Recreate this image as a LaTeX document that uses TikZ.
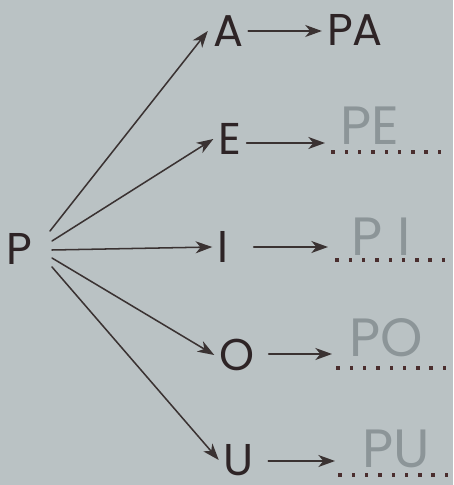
\documentclass[tikz,border=0pt]{standalone}
\usepackage{fontspec}
\setmainfont{Poppins}
\usetikzlibrary{arrows.meta}
\definecolor{Paper}{HTML}{BAC2C4}
\definecolor{Ink}{HTML}{2E2426}
\definecolor{Stroke}{HTML}{3A3232}
\definecolor{Pencil}{HTML}{8C9598}
\definecolor{DotInk}{HTML}{4A2E2E}
\tikzset{
  letter/.style={text=Ink,font=\fontsize{38}{38}\selectfont,inner xsep=0.15cm,inner ysep=0pt,text height=0.94cm,text depth=0pt},
  pencil/.style={text=Pencil,anchor=base,inner sep=0pt,font=\fontsize{46}{46}\selectfont},
  link/.style={draw=Stroke,line width=1.3pt,-{Stealth[length=5mm,width=3.6mm,inset=1.5mm]}}
}
\newcommand{\DotRow}[2]{%
  \foreach \k in {0,...,8} {
    \fill[DotInk] ({#1 + 13.3*\k - 1.7},{#2 - 1.7}) rectangle ++(3.4,3.4);
  }
}

\begin{document}
\begin{tikzpicture}[x=0.03cm,y=-0.03cm,line cap=round,line join=round]
  \fill[Paper] (0,0) rectangle (453,485);

  % start letter
  \node[letter] (p) at (19,249) {P};
  \coordinate (p1) at (50,231);
  \coordinate (p2) at (52,241);
  \coordinate (p3) at (52,250);
  \coordinate (p4) at (52,258);
  \coordinate (p5) at (52,267);

  % vowels
  \node[letter] (a) at (228,31) {A};
  \node[letter] (e) at (230,139) {E};
  \node[letter] (i) at (223,247) {I};
  \node[letter] (o) at (237,355) {O};
  \node[letter] (u) at (239,460) {U};
  \node[letter] (pa) at (355,30) {PA};

  \draw[link] (p1) -- (a.west);
  \draw[link] (p2) -- (e.west);
  \draw[link] (p3) -- (i.west);
  \draw[link] (p4) -- (o.west);
  \draw[link] (p5) -- (u.west);

  % answer slots
  \coordinate (ge) at (325,143);
  \coordinate (gi) at (328,247);
  \coordinate (go) at (332,354);
  \coordinate (gu) at (335,461);

  \draw[link] (a.east) -- (a.east -| pa.west);
  \draw[link] (e.east |- ge) -- (ge);
  \draw[link,shorten <=0.6cm] (i.east |- gi) -- (gi);
  \draw[link,shorten <=0.27cm] (o.east |- go) -- (go);
  \draw[link,shorten <=0.27cm] (u.east |- gu) -- (gu);

  \DotRow{333}{152}
  \DotRow{337}{260}
  \DotRow{338}{368}
  \DotRow{340}{475}

  \node[pencil] (pe) at (370,145) {PE};
  \node[pencil] (pi) at (381,255) {P\hspace{0.45cm}I};
  \node[pencil] (po) at (386,356) {PO};
  \node[pencil] (pu) at (396,467) {PU};
\end{tikzpicture}
\end{document}
